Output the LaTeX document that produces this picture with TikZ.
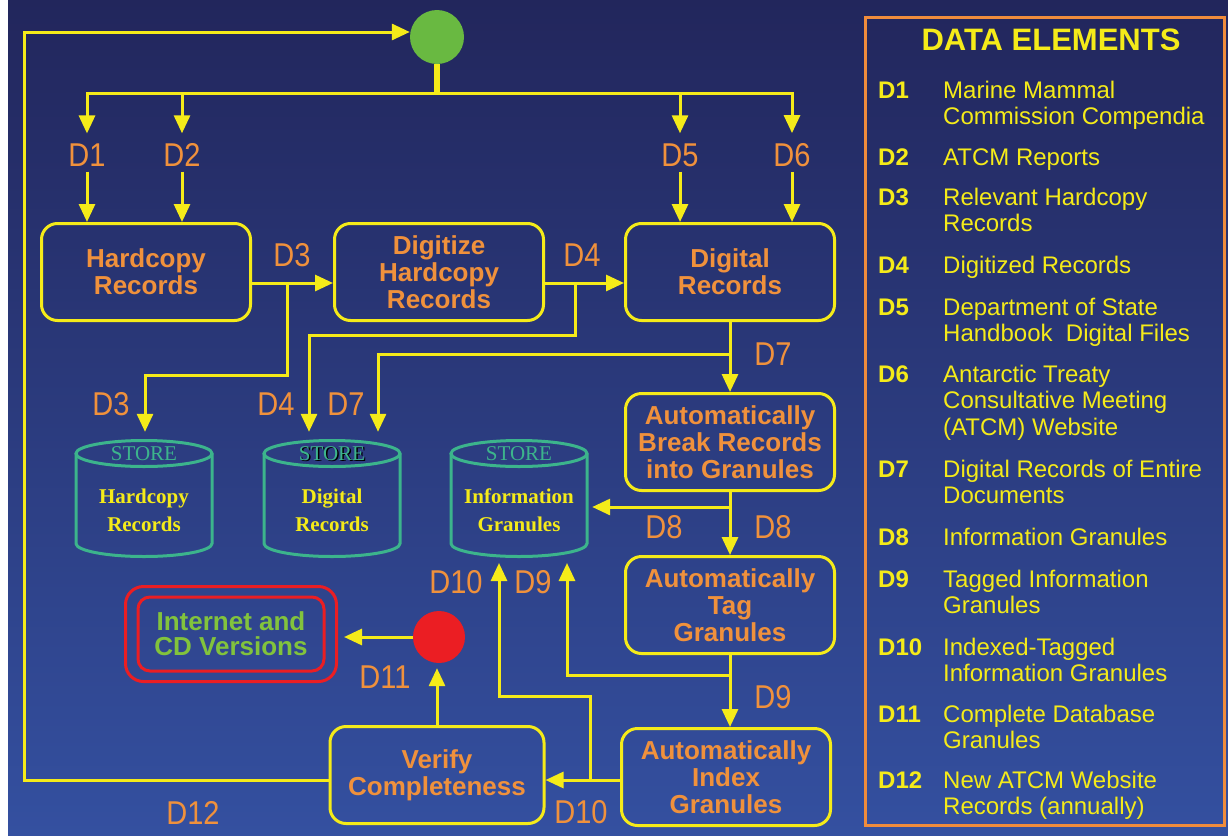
\documentclass[tikz,border=0pt]{standalone}
\usepackage{fontspec}
\setmainfont{Liberation Sans}
\newfontfamily\serf{Liberation Serif}
\newfontfamily\lblf[FakeStretch=0.88]{Liberation Sans}
\usetikzlibrary{arrows.meta,calc}
\definecolor{bgtop}{RGB}{34,38,92}
\definecolor{bgbot}{RGB}{52,80,160}
\definecolor{yel}{RGB}{245,235,25}
\definecolor{orng}{RGB}{240,145,60}
\definecolor{lgor}{RGB}{240,140,60}
\definecolor{tealc}{RGB}{60,180,140}
\definecolor{gcol}{RGB}{105,185,65}
\definecolor{redc}{RGB}{235,30,35}
\definecolor{igrn}{RGB}{130,195,60}
\newcommand\drawstore[1]{%
  \draw[storeline] ($(#1)+(-68,-45)$) -- ($(#1)+(-68,45)$) arc[start angle=180,end angle=0,x radius=68,y radius=13] -- ($(#1)+(68,-45)$);
  \draw[storeline] ($(#1)+(0,-45)$) ellipse[x radius=68,y radius=13];
}
\begin{document}
\begin{tikzpicture}[x=1pt,y=-1pt,
  conn/.style={draw=yel,line width=3pt},
  arr/.style={draw=yel,line width=3pt,-{Triangle[length=18pt,width=16pt]}},
  procbox/.style={draw=yel,line width=3pt,rounded corners=16pt,minimum width=209pt,minimum height=97pt,align=center,text=orng,font=\bfseries\fontsize{26}{27}\selectfont,inner sep=0pt},
  dlbl/.style={text=orng,font=\lblf\fontsize{33}{33}\selectfont,inner sep=0pt},
  storeline/.style={draw=tealc,line width=3pt},
  storenode/.style={minimum width=136pt,minimum height=117pt,inner sep=0pt},
  sthead/.style={text=tealc,font=\serf\fontsize{21}{21}\selectfont,inner sep=0pt},
  sttxt/.style={text=yel,font=\serf\bfseries\fontsize{21}{28}\selectfont,align=center,inner sep=0pt},
  legk/.style={text=yel,font=\bfseries\fontsize{24}{24}\selectfont,inner sep=0pt,anchor=base west},
  legt/.style={text=yel,font=\fontsize{24}{26.5}\selectfont,inner sep=0pt,align=left},
]
\useasboundingbox (0,0) rectangle (1228,835);
\fill[white] (0,0) rectangle (1228,835);
\shade[top color=bgtop,bottom color=bgbot] (8,0) rectangle (1228,835);

% legend
\node[draw=lgor,line width=3pt,minimum width=359pt,minimum height=808pt,inner sep=0pt] (leg) at (1045,421.5) {};
\node[text=yel,font=\bfseries\fontsize{31}{31}\selectfont,inner sep=0pt] (title) at (1051,40) {DATA ELEMENTS};
\node[legk] (lk1) at (878,98) {D1};
\node[legt,anchor=north west] (lt1) at (943,80.5) {Marine Mammal\\Commission Compendia};
\node[legk] (lk2) at (878,165) {D2};
\node[legt,anchor=base west] (lt2) at (943,165) {ATCM Reports};
\node[legk] (lk3) at (878,205) {D3};
\node[legt,anchor=north west] (lt3) at (943,187.5) {Relevant Hardcopy\\Records};
\node[legk] (lk4) at (878,273) {D4};
\node[legt,anchor=base west] (lt4) at (943,273) {Digitized Records};
\node[legk] (lk5) at (878,315) {D5};
\node[legt,anchor=north west] (lt5) at (943,297.5) {Department of State\\Handbook\ \ Digital Files};
\node[legk] (lk6) at (878,382) {D6};
\node[legt,anchor=north west] (lt6) at (943,364.5) {Antarctic Treaty\\Consultative Meeting\\(ATCM) Website};
\node[legk] (lk7) at (878,477) {D7};
\node[legt,anchor=north west] (lt7) at (943,459.5) {Digital Records of Entire\\Documents};
\node[legk] (lk8) at (878,545) {D8};
\node[legt,anchor=base west] (lt8) at (943,545) {Information Granules};
\node[legk] (lk9) at (878,587) {D9};
\node[legt,anchor=north west] (lt9) at (943,569.5) {Tagged Information\\Granules};
\node[legk] (lk10) at (878,655) {D10};
\node[legt,anchor=north west] (lt10) at (943,637.5) {Indexed-Tagged\\Information Granules};
\node[legk] (lk11) at (878,722) {D11};
\node[legt,anchor=north west] (lt11) at (943,704.5) {Complete Database\\Granules};
\node[legk] (lk12) at (878,788) {D12};
\node[legt,anchor=north west] (lt12) at (943,770.5) {New ATCM Website\\Records (annually)};

% start circle and bus
\node[circle,fill=gcol,minimum size=54pt,inner sep=0pt] (gc) at (437,37) {};
\coordinate (bl) at (87,93);
\coordinate (b2) at (182,93);
\coordinate (b5) at (680,93);
\coordinate (br) at (792,93);
\draw[yel,line width=6pt] (gc.south) -- (gc.south |- bl);
\draw[conn,line cap=rect] (bl) -- (br);

% process boxes
\node[procbox] (hc) at (146,272) {Hardcopy\\Records};
\node[procbox] (dg) at (439,272) {Digitize\\Hardcopy\\Records};
\node[procbox] (dr) at (730,272) {Digital\\Records};
\node[procbox] (bk) at (730,442) {Automatically\\Break Records\\into Granules};
\node[procbox] (tg) at (730,605) {Automatically\\Tag\\Granules};
\node[procbox] (ix) at (726,777) {Automatically\\Index\\Granules};
\node[procbox,minimum width=214pt] (vf) at (437,775) {Verify\\Completeness};

% stores
\node[storenode] (s1) at (144,498.5) {};
\node[storenode] (s2) at (332,498.5) {};
\node[storenode] (s3) at (519,498.5) {};
\drawstore{s1}
\drawstore{s2}
\drawstore{s3}
\node[sthead] (s1h) at ($(s1)+(0,-45)$) {STORE};
\node[sthead,text=black] (s2sh) at ($(s2)+(1.5,-43.5)$) {STORE};
\node[sthead] (s2h) at ($(s2)+(0,-45)$) {STORE};
\node[sthead] (s3h) at ($(s3)+(0,-45)$) {STORE};
\node[sttxt] (s1t) at ($(s1)+(0,12)$) {Hardcopy\\Records};
\node[sttxt] (s2t) at ($(s2)+(0,12)$) {Digital\\Records};
\node[sttxt] (s3t) at ($(s3)+(0,12)$) {Information\\Granules};

% D1 D2 D5 D6
\node[dlbl] (l1) at (87,155) {D1};
\node[dlbl] (l2) at (182,155) {D2};
\node[dlbl] (l5) at (680,155) {D5};
\node[dlbl] (l6) at (792,155) {D6};
\draw[arr,shorten >=10pt] (bl) -- (bl |- l1.north);
\draw[arr,shorten >=10pt] (b2) -- (b2 |- l2.north);
\draw[arr,shorten >=10pt] (b5) -- (b5 |- l5.north);
\draw[arr,shorten >=10pt] (br) -- (br |- l6.north);
\draw[arr,shorten <=5pt] (l1.south) -- (l1.south |- hc.north);
\draw[arr,shorten <=5pt] (l2.south) -- (l2.south |- hc.north);
\draw[arr,shorten <=5pt] (l5.south) -- (l5.south |- dr.north);
\draw[arr,shorten <=5pt] (l6.south) -- (l6.south |- dr.north);

% D3
\coordinate (h1) at (287,283);
\coordinate (h2) at (287,375);
\coordinate (h3) at (145,375);
\draw[arr] (hc.east |- h1) -- (dg.west |- h1);
\draw[arr,shorten >=8pt] (h1) -- (h2) -- (h3) -- (h3 |- s1.north);
\node[dlbl] (l3a) at (292,255) {D3};
\node[dlbl] (l3b) at (111,404) {D3};

% D4
\coordinate (g1) at (575,283);
\coordinate (g2) at (575,335);
\coordinate (g3) at (309,335);
\draw[arr] (dg.east |- g1) -- (dr.west |- g1);
\draw[arr,shorten >=8pt] (g1) -- (g2) -- (g3) -- (g3 |- s2.north);
\node[dlbl] (l4a) at (582,255) {D4};
\node[dlbl] (l4b) at (276,404) {D4};

% D7
\coordinate (e1) at (730,354);
\coordinate (e2) at (378,354);
\draw[arr] (dr.south) -- (dr.south |- bk.north);
\draw[arr,shorten >=8pt] (e1) -- (e2) -- (e2 |- s2.north);
\node[dlbl] (l7a) at (773,354) {D7};
\node[dlbl] (l7b) at (346,404) {D7};

% D8
\coordinate (f1) at (730,507);
\draw[arr] (bk.south) -- (bk.south |- tg.north);
\draw[arr,shorten >=5pt] (f1) -- (f1 -| s3.east);
\node[dlbl] (l8a) at (664,527) {D8};
\node[dlbl] (l8b) at (773,527) {D8};

% D9
\coordinate (k1) at (730,675);
\coordinate (k2) at (567,675);
\coordinate (k3) at (567,563);
\draw[arr] (tg.south) -- (tg.south |- ix.north);
\draw[arr] (k1) -- (k2) -- (k3);
\node[dlbl] (l9a) at (533,582) {D9};
\node[dlbl] (l9b) at (773,697) {D9};

% D10
\coordinate (m1) at (590,780);
\coordinate (m2) at (590,696);
\coordinate (m3) at (499,696);
\coordinate (m4) at (499,563);
\draw[arr] (ix.west |- m1) -- (vf.east |- m1);
\draw[arr] (m1) -- (m2) -- (m3) -- (m4);
\node[dlbl] (l10a) at (456,582) {D10};
\node[dlbl] (l10b) at (581,812) {D10};

% D11
\node[circle,fill=redc,minimum size=52pt,inner sep=0pt] (rc) at (439,637) {};
\node[draw=redc,line width=3pt,rounded corners=18pt,minimum width=211pt,minimum height=95pt,align=center,text=igrn,font=\bfseries\fontsize{26}{25}\selectfont,inner sep=0pt] (inet) at (231,634) {Internet and\\CD Versions};
\draw[draw=redc,line width=3pt,rounded corners=12pt] ($(inet.north west)+(14,12)$) rectangle ($(inet.south east)+(-14,-12)$);
\draw[arr,shorten >=5pt] (vf.north) -- (vf.north |- rc.south);
\draw[arr,shorten >=6pt] (rc.west) -- (rc.west -| inet.east);
\node[dlbl] (l11) at (385,677) {D11};

% D12 loop
\coordinate (p1) at (24,780);
\coordinate (p2) at (24,32);
\draw[arr] (vf.west |- p1) -- (p1) -- (p2) -- (gc.west |- p2);
\node[dlbl] (l12) at (193,813) {D12};
\end{tikzpicture}
\end{document}
